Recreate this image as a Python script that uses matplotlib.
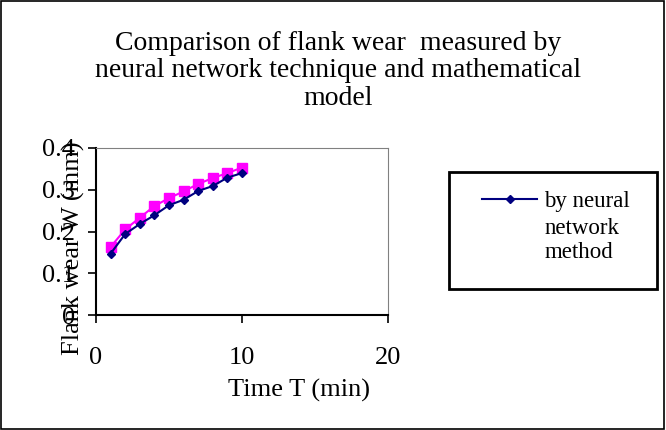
import numpy as np
import matplotlib.pyplot as plt

plt.rcParams['font.family'] = ['Liberation Serif', 'DejaVu Serif']

# data
time_min = [1, 2, 3, 4, 5, 6, 7, 8, 9, 10]
wear_nn = [0.147, 0.194, 0.218, 0.239, 0.263, 0.276, 0.297, 0.309, 0.329, 0.340]
wear_math = [0.163, 0.205, 0.233, 0.261, 0.280, 0.296, 0.314, 0.328, 0.340, 0.353]
y_ticks = [0, 0.1, 0.2, 0.3, 0.4]
y_tick_labels = ['0', '0.1', '0.2', '0.3', '0.4']
x_ticks = [0, 10, 20]

fig = plt.figure(figsize=(6.66, 4.30), dpi=100)
ax = fig.add_axes([96 / 666, 1 - 315 / 430, 292 / 666, 167 / 430])

ax.plot(time_min, wear_math, color='#ff00ff', marker='s', markersize=7.5, lw=1.5)
ax.plot(time_min, wear_nn, color='#000080', marker='D', markersize=4.5, lw=1.5,
        label='by neural')

ax.set_xlim(0, 20)
ax.set_ylim(0, 0.4)
ax.set_xticks(x_ticks)
ax.set_yticks(y_ticks)
ax.set_yticklabels(y_tick_labels)
ax.tick_params(labelsize=19, direction='out', length=6, width=1.2)
ax.tick_params(axis='x', pad=17)
ax.tick_params(axis='y', pad=9)

for side in ['top', 'right']:
    ax.spines[side].set_color('#808080')
for side in ['left', 'bottom']:
    ax.spines[side].set_color('black')
    ax.spines[side].set_linewidth(1.5)

fig.text(0.508, 0.835, 'Comparison of flank wear  measured by\nneural network technique and mathematical\nmodel',
         ha='center', va='center', fontsize=20, linespacing=1.15)
fig.text(73 / 666, 1 - 248 / 430, 'Flank wear W (mm)', rotation=90, ha='center', va='center', fontsize=19)
fig.text(299 / 666, 1 - 390 / 430, 'Time T (min)', ha='center', va='center', fontsize=19)

# legend box drawn separately, legend entry placed inside it
fig.patches.append(plt.Rectangle((449 / 666, 1 - 289 / 430), 208 / 666, 117 / 430,
                                 transform=fig.transFigure, fill=False, edgecolor='black', lw=2))
fig.legend(loc='center left', bbox_to_anchor=(471 / 666, 1 - 201 / 430), fontsize=16.5,
           frameon=False, handlelength=2.4, handletextpad=0.3, borderpad=0)
fig.text(545 / 666, 1 - 218 / 430, 'network\nmethod', ha='left', va='top', fontsize=16.5,
         linespacing=1.2)

# outer border of the figure
fig.patches.append(plt.Rectangle((0.002, 0.003), 0.995, 0.994, transform=fig.transFigure,
                                 fill=False, edgecolor='black', lw=1.2))

plt.savefig('out.png', dpi=100)
